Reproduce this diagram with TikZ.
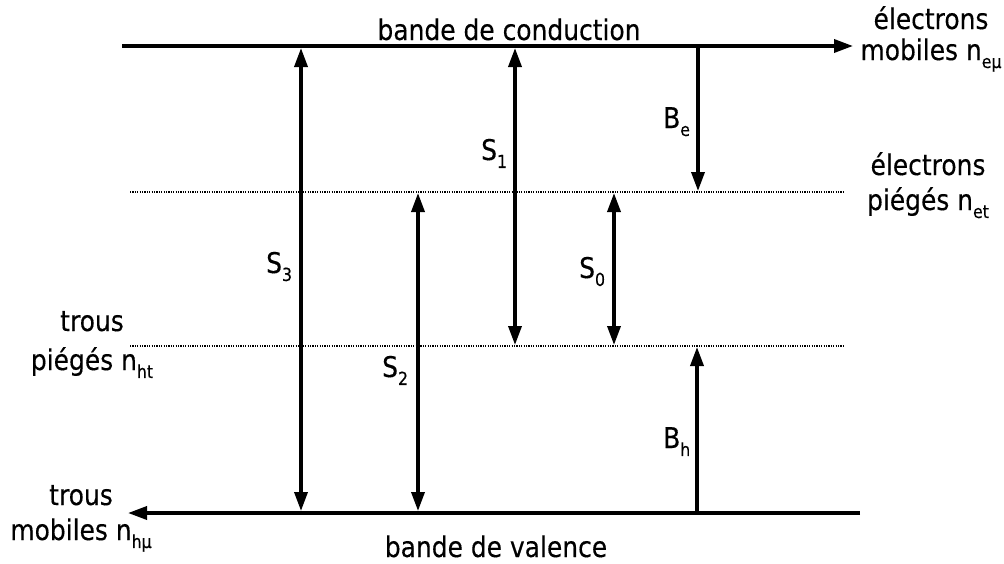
\documentclass[tikz,border=0pt]{standalone}
\usepackage{fontspec}
\setmainfont{DejaVu Sans}[FakeStretch=0.875,FakeBold=0.3]
\usetikzlibrary{arrows.meta}
\newcommand\subx[1]{\raisebox{-0.28em}{\fontsize{18}{18}\selectfont #1}}
\tikzset{
  band/.style={line width=3.5pt},
  trap/.style={line width=1.2pt, dash pattern=on 1.2pt off 1.2pt},
  trans/.style={line width=3.5pt},
  lbl/.style={font=\fontsize{28.5}{33}\selectfont, inner sep=0pt},
  >={Triangle[length=19pt,width=13pt]}
}
\begin{document}
\begin{tikzpicture}[x=1pt,y=-1pt]
\useasboundingbox (0,0) rectangle (1004,563);
% band end points
\coordinate (cbL) at (122,46);
\coordinate (cbR) at (853,46);
\coordinate (vbR) at (860,513);
\coordinate (vbL) at (128,513);
\coordinate (etL) at (130,192);
\coordinate (etR) at (845,192);
\coordinate (htL) at (130,346);
\coordinate (htR) at (845,346);
% transition end points
\coordinate (s3a) at (301,48);  \coordinate (s3b) at (301,511);
\coordinate (s1a) at (515,48);  \coordinate (s1b) at (515,345);
\coordinate (s2a) at (418,193); \coordinate (s2b) at (418,511);
\coordinate (s0a) at (614,193); \coordinate (s0b) at (614,345);
\coordinate (bea) at (698,48);  \coordinate (beb) at (698,191);
\coordinate (bha) at (697,511); \coordinate (bhb) at (697,347);
% bands
\draw[band,->] (cbL) -- (cbR);
\draw[band,->] (vbR) -- (vbL);
\draw[trap] (etL) -- (etR);
\draw[trap] (htL) -- (htR);
% transitions
\draw[trans,<->] (s3a) -- (s3b);
\draw[trans,<->] (s1a) -- (s1b);
\draw[trans,<->] (s2a) -- (s2b);
\draw[trans,<->] (s0a) -- (s0b);
\draw[trans,->] (bea) -- (beb);
\draw[trans,->] (bha) -- (bhb);
% labels
\node[lbl,anchor=base] (lcb) at (509,40) {bande de conduction};
\node[lbl,anchor=base] (lvb) at (496,557) {bande de valence};
\node[lbl,anchor=base] (lem) at (931,29) {\begin{tabular}[t]{@{}c@{}}électrons\\[-2pt]mobiles n\subx{eμ}\end{tabular}};
\node[lbl,anchor=base] (let) at (928,175) {\begin{tabular}[t]{@{}c@{}}électrons\\[2pt]piégés n\subx{et}\end{tabular}};
\node[lbl,anchor=base] (lht) at (92,331) {\begin{tabular}[t]{@{}c@{}}trous\\[6pt]piégés n\subx{ht}\end{tabular}};
\node[lbl,anchor=base] (lhm) at (81,505) {\begin{tabular}[t]{@{}c@{}}trous\\[2pt]mobiles n\subx{hμ}\end{tabular}};
\node[lbl,anchor=base west] (ls3) at (266,273) {S\subx{3}};
\node[lbl,anchor=base west] (ls1) at (481,160) {S\subx{1}};
\node[lbl,anchor=base west] (lbe) at (663,128) {B\subx{e}};
\node[lbl,anchor=base west] (ls2) at (382,377) {S\subx{2}};
\node[lbl,anchor=base west] (ls0) at (579,278) {S\subx{0}};
\node[lbl,anchor=base west] (lbh) at (663,448) {B\subx{h}};
\end{tikzpicture}
\end{document}
